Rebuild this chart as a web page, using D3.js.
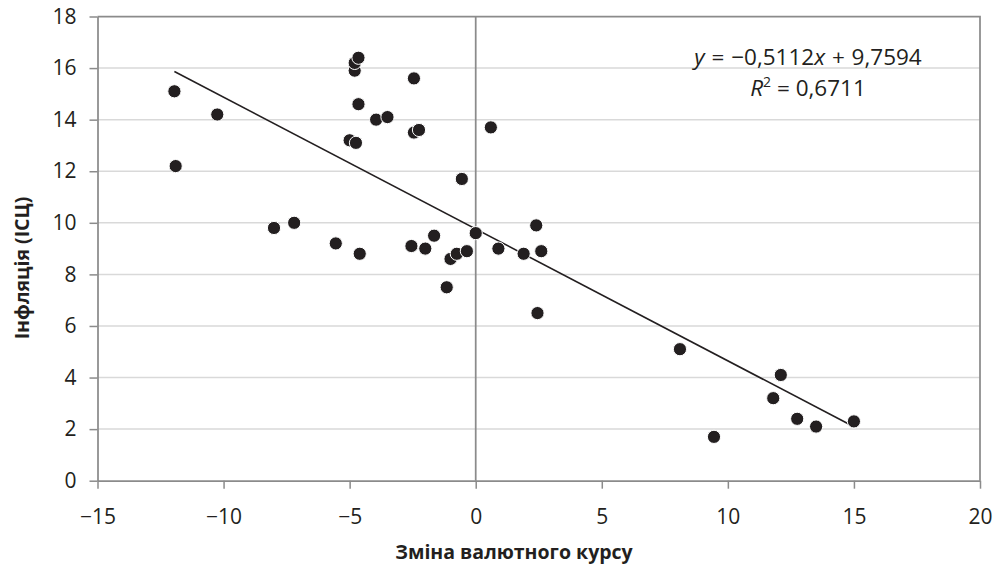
<!DOCTYPE html>
<html>
<head>
<meta charset="utf-8">
<script src="https://cdn.jsdelivr.net/npm/d3@7/dist/d3.min.js"></script>
<style>
  html, body { margin: 0; padding: 0; background: #fff; }
  svg { display: block; }
  text { font-family: "Open Sans", "Noto Sans", sans-serif; fill: #231f20; }
</style>
</head>
<body>
<svg id="chart" width="994" height="566"></svg>
<script>
// Exchange-rate change (x) vs. HICP inflation (y), one dot per observation
const rateChange = [
  -11.95, -10.25, -11.9, -4.8, -4.8, -4.65, -2.45, -4.65, -3.95, -3.5,
  -2.45, -2.25, -5.0, -4.75, -0.55, 0.6, -8.0, -7.2, -5.55, -4.6,
  -2.55, -2.0, -1.65, -1.15, -1.0, -0.75, -0.35, 0.0, 0.9, 1.9,
  2.4, 2.6, 2.45, 8.1, 12.1, 11.8, 12.75, 13.5, 15.0, 9.45
];
const inflation = [
  15.1, 14.2, 12.2, 15.9, 16.2, 16.4, 15.6, 14.6, 14.0, 14.1,
  13.5, 13.6, 13.2, 13.1, 11.7, 13.7, 9.8, 10.0, 9.2, 8.8,
  9.1, 9.0, 9.5, 7.5, 8.6, 8.8, 8.9, 9.6, 9.0, 8.8,
  9.9, 8.9, 6.5, 5.1, 4.1, 3.2, 2.4, 2.1, 2.3, 1.7
];

// Linear trend reported on the chart
const trendSlope = -0.5112;
const trendIntercept = 9.7594;
const trendR2 = 0.6711;

const xTicks = [-15, -10, -5, 0, 5, 10, 15, 20];
const yTicks = [0, 2, 4, 6, 8, 10, 12, 14, 16, 18];

const xTitle = "Зміна валютного курсу";
const yTitle = "Інфляція (ІСЦ)";

const fmt = v => (v < 0 ? "\u2212" + Math.abs(v) : String(v));
const comma = v => String(Math.abs(v)).replace(".", ",");

const svg = d3.select("#chart");
const x = d3.scaleLinear().domain([-15, 20]).range([97.5, 980]);
const y = d3.scaleLinear().domain([0, 18]).range([480.7, 16.5]);

const axisColor = "#8b8b8b";
const gridColor = "#d9d9d9";

// horizontal gridlines
svg.append("g")
  .selectAll("line")
  .data(yTicks.filter(t => t > 0 && t < 18))
  .join("line")
  .attr("x1", x(-15)).attr("x2", x(20))
  .attr("y1", d => y(d)).attr("y2", d => y(d))
  .attr("stroke", gridColor).attr("stroke-width", 1.5);

// plot frame (top and right edges)
svg.append("path")
  .attr("d", `M${x(-15)},${y(18)}H${x(20)}V${y(0)}`)
  .attr("fill", "none").attr("stroke", axisColor).attr("stroke-width", 1.75);

// zero line
svg.append("line")
  .attr("x1", x(0)).attr("x2", x(0))
  .attr("y1", y(0)).attr("y2", y(18))
  .attr("stroke", axisColor).attr("stroke-width", 1.75);

// x axis
const xAxis = svg.append("g")
  .attr("transform", `translate(0,${y(0)})`)
  .call(d3.axisBottom(x).tickValues(xTicks).tickFormat(fmt).tickSizeInner(8).tickSizeOuter(0).tickPadding(20));
xAxis.select(".domain").attr("stroke", axisColor).attr("stroke-width", 1.75);
xAxis.selectAll(".tick line").attr("stroke", axisColor).attr("stroke-width", 1.5);
xAxis.selectAll(".tick text")
  .attr("font-size", 21).attr("font-family", "'Open Sans', sans-serif").attr("fill", "#231f20");

// y axis
const yAxis = svg.append("g")
  .attr("transform", `translate(${x(-15)},0)`)
  .call(d3.axisLeft(y).tickValues(yTicks).tickFormat(fmt).tickSizeInner(8).tickSizeOuter(0).tickPadding(13));
yAxis.select(".domain").attr("stroke", axisColor).attr("stroke-width", 1.75);
yAxis.selectAll(".tick line").attr("stroke", axisColor).attr("stroke-width", 1.5);
yAxis.selectAll(".tick text")
  .attr("font-size", 21).attr("font-family", "'Open Sans', sans-serif").attr("fill", "#231f20");

// trend line across the data range
const xMin = d3.min(rateChange), xMax = d3.max(rateChange);
svg.append("line")
  .attr("x1", x(xMin)).attr("y1", y(trendSlope * xMin + trendIntercept))
  .attr("x2", x(xMax)).attr("y2", y(trendSlope * xMax + trendIntercept))
  .attr("stroke", "#231f20").attr("stroke-width", 1.6);

// observations
const points = rateChange.map((v, i) => ({ x: v, y: inflation[i] }));
svg.append("g")
  .selectAll("circle")
  .data(points)
  .join("circle")
  .attr("cx", d => x(d.x)).attr("cy", d => y(d.y))
  .attr("r", 6.6)
  .attr("fill", "#231f20")
  .attr("stroke", "#fff").attr("stroke-width", 1);

// regression equation
const eq = svg.append("text")
  .attr("x", 808).attr("y", 65)
  .attr("text-anchor", "middle").attr("font-size", 22.5)
  .attr("word-spacing", 1);
eq.append("tspan").attr("font-style", "italic").text("y");
eq.append("tspan").text(" = " + (trendSlope < 0 ? "\u2212" : "") + comma(trendSlope));
eq.append("tspan").attr("font-style", "italic").text("x");
eq.append("tspan").text(" + " + comma(trendIntercept));

const r2 = svg.append("text")
  .attr("x", 808).attr("y", 96)
  .attr("text-anchor", "middle").attr("font-size", 22.5);
r2.append("tspan").attr("font-style", "italic").text("R");
r2.append("tspan").attr("font-size", 14).attr("dy", -9).text("2");
r2.append("tspan").attr("dy", 9).text(" = " + comma(trendR2));

// axis titles
svg.append("text")
  .attr("x", 514).attr("y", 559)
  .attr("text-anchor", "middle")
  .attr("font-size", 19.5).attr("font-weight", "bold")
  .text(xTitle);

svg.append("text")
  .attr("transform", "translate(29,268) rotate(-90)")
  .attr("text-anchor", "middle")
  .attr("font-size", 19.5).attr("font-weight", "bold")
  .text(yTitle);
</script>
</body>
</html>
